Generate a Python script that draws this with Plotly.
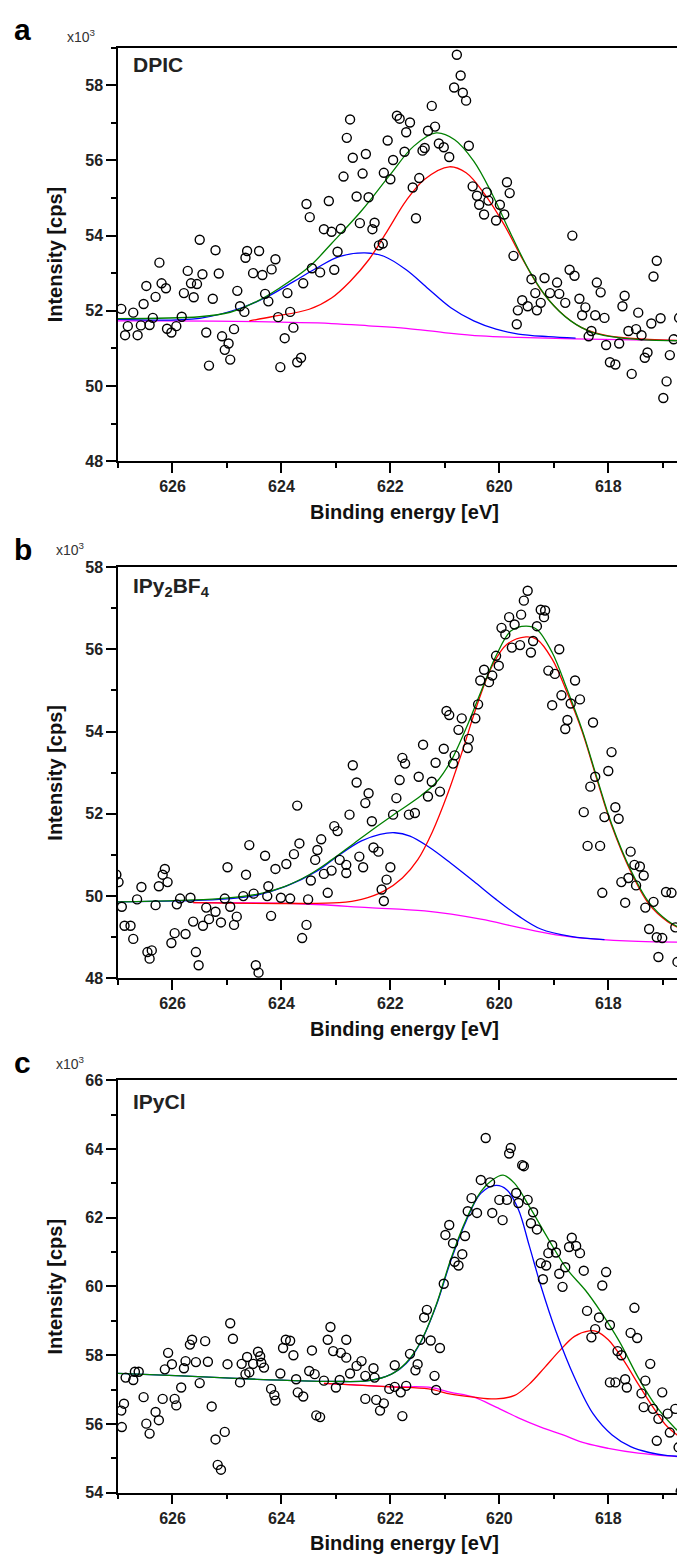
import plotly.graph_objects as go

W, H = 685, 1559

# ---- panel a: DPIC ----
a_points = [
    (620.78, 58.81), (620.71, 58.26), (620.83, 57.94), (620.67, 57.80), (620.61, 57.59), (621.24, 57.45),
    (622.74, 57.09), (621.88, 57.19), (621.83, 57.11), (621.64, 57.01), (621.71, 56.75), (621.18, 56.90),
    (621.31, 56.79), (622.80, 56.60), (622.05, 56.53), (621.11, 56.45), (621.02, 56.35), (620.56, 56.39),
    (621.37, 56.33), (621.41, 56.26), (621.74, 56.23), (620.92, 56.09), (622.69, 56.07), (622.45, 56.17),
    (621.95, 56.01), (622.12, 55.67), (622.86, 55.57), (622.51, 55.65), (622.00, 55.50), (621.47, 55.53),
    (621.59, 55.28), (620.49, 55.31), (620.41, 55.06), (620.23, 55.15), (619.86, 55.42), (619.81, 55.13),
    (622.62, 55.04), (622.40, 55.02), (620.20, 54.93), (620.37, 54.82), (619.99, 54.82), (620.28, 54.56),
    (619.91, 54.56), (620.06, 54.40), (623.54, 54.84), (623.13, 54.92), (623.48, 54.49), (621.53, 54.46),
    (622.56, 54.33), (622.29, 54.34), (622.33, 54.17), (623.22, 54.17), (623.08, 54.10), (622.91, 54.18),
    (622.21, 53.74), (622.14, 53.79), (622.97, 53.57), (618.66, 54.00), (625.50, 53.89), (625.21, 53.61),
    (624.63, 53.59), (624.41, 53.59), (624.66, 53.41), (624.11, 53.37), (626.24, 53.28), (624.18, 53.10),
    (624.52, 53.00), (624.35, 52.95), (625.72, 53.06), (625.45, 52.97), (625.15, 52.99), (623.44, 53.13),
    (623.29, 53.02), (623.03, 53.09), (619.74, 53.46), (619.41, 52.84), (619.17, 52.87), (618.94, 52.75),
    (618.71, 53.09), (618.62, 52.93), (618.21, 52.75), (618.14, 52.49), (617.70, 52.40), (617.74, 52.12),
    (617.11, 53.33), (617.17, 52.91), (616.63, 52.43), (616.56, 52.21), (626.48, 52.66), (626.20, 52.73),
    (626.12, 52.60), (626.31, 52.37), (625.79, 52.47), (625.66, 52.73), (625.55, 52.71), (625.61, 52.36),
    (625.26, 52.32), (624.81, 52.53), (624.30, 52.45), (623.89, 52.47), (624.24, 52.25), (623.60, 52.73),
    (619.58, 52.28), (619.48, 52.12), (619.34, 52.47), (619.24, 52.21), (619.07, 52.47), (618.90, 52.45),
    (618.79, 52.21), (618.53, 52.32), (618.42, 52.09), (619.66, 52.01), (619.31, 52.01), (618.48, 51.88),
    (618.24, 51.88), (618.07, 51.81), (619.68, 51.64), (617.45, 51.95), (617.04, 51.80), (616.70, 51.81),
    (617.21, 51.66), (626.53, 52.18), (626.94, 52.05), (626.72, 51.95), (626.36, 51.81), (625.83, 51.84),
    (624.76, 52.12), (624.68, 51.97), (624.06, 51.83), (623.84, 51.97), (618.31, 51.46), (618.36, 51.32),
    (618.04, 51.09), (617.80, 51.13), (617.63, 51.46), (617.49, 51.51), (617.39, 51.35), (616.80, 51.24),
    (617.97, 50.63), (617.87, 50.57), (617.57, 50.32), (617.28, 50.89), (617.33, 50.75), (616.87, 50.82),
    (616.51, 50.89), (616.93, 50.12), (616.99, 49.68), (626.82, 51.59), (626.87, 51.35), (626.64, 51.35),
    (626.58, 51.61), (626.42, 51.62), (626.10, 51.52), (626.02, 51.42), (625.93, 51.59), (625.38, 51.42),
    (625.09, 51.32), (624.97, 51.13), (625.04, 50.96), (624.94, 50.70), (624.87, 51.51), (625.33, 50.54),
    (624.02, 50.50), (623.94, 51.27), (623.78, 51.55), (623.71, 50.63), (623.64, 50.75),
]
a_green_ev = [627.0, 625.5, 624.94, 624.45, 624.04, 623.49, 623.08, 622.53, 622.0, 621.57, 621.16,
              620.82, 620.47, 620.13, 619.79, 619.44, 619.10, 618.69, 618.28, 617.59, 616.5]
a_green = [51.79, 51.84, 51.96, 52.25, 52.60, 53.17, 53.79, 54.66, 55.63, 56.38, 56.73,
           56.55, 55.98, 55.10, 54.05, 53.04, 52.30, 51.73, 51.42, 51.25, 51.20]
a_blue_ev = [627.0, 625.5, 624.73, 624.25, 623.77, 623.36, 622.94, 622.47, 622.12, 621.71, 621.30,
             620.89, 620.47, 620.06, 619.65, 619.10, 618.6]
a_blue = [51.77, 51.80, 52.08, 52.38, 52.78, 53.13, 53.44, 53.54, 53.45, 53.09, 52.58,
          52.08, 51.73, 51.51, 51.38, 51.31, 51.27]
a_red_ev = [624.59, 624.18, 623.49, 623.08, 622.74, 622.40, 622.05, 621.71, 621.37, 620.92, 620.61,
            620.27, 619.92, 619.58, 619.24, 618.90, 618.49, 618.0, 617.25, 616.5]
a_red = [51.73, 51.84, 52.04, 52.34, 52.78, 53.35, 54.14, 54.93, 55.50, 55.83, 55.67,
         55.10, 54.31, 53.39, 52.56, 51.99, 51.55, 51.33, 51.24, 51.20]
a_bg_ev = [627.0, 626.31, 624.45, 623.08, 622.40, 621.71, 621.02, 620.34, 619.65, 618.62, 616.5]
a_bg = [51.73, 51.73, 51.71, 51.66, 51.60, 51.53, 51.42, 51.33, 51.29, 51.25, 51.20]

# ---- panel b: IPy2BF4 ----
b_points = [
    (619.48, 57.42), (619.55, 57.18), (619.24, 56.96), (619.16, 56.94), (619.18, 56.78), (619.82, 56.78),
    (619.60, 56.84), (619.96, 56.52), (619.72, 56.60), (619.31, 56.56), (619.89, 56.36), (619.77, 56.04),
    (619.62, 56.10), (619.42, 55.92), (619.38, 56.20), (618.90, 56.00), (620.06, 55.84), (620.01, 55.60),
    (620.28, 55.50), (620.13, 55.36), (620.35, 55.24), (620.19, 55.20), (619.10, 55.48), (618.98, 55.40),
    (618.61, 55.24), (618.52, 54.78), (618.86, 54.88), (618.69, 54.68), (619.03, 54.64), (620.39, 54.66),
    (620.97, 54.50), (620.92, 54.40), (620.69, 54.32), (620.44, 54.32), (618.75, 54.28), (618.28, 54.22),
    (620.75, 54.04), (620.56, 53.82), (620.58, 53.60), (618.79, 54.06), (621.40, 53.68), (621.02, 53.58),
    (620.82, 53.42), (620.85, 53.22), (621.17, 53.24), (621.78, 53.36), (621.73, 53.22), (622.69, 53.18),
    (617.94, 53.50), (618.00, 53.04), (618.24, 52.90), (618.33, 52.66), (622.62, 52.76), (621.83, 52.82),
    (621.48, 52.90), (621.24, 52.78), (622.40, 52.50), (622.46, 52.26), (621.89, 52.38), (621.09, 52.54),
    (621.31, 52.42), (623.71, 52.20), (618.45, 52.04), (618.07, 51.92), (617.87, 52.16), (617.81, 51.88),
    (622.75, 51.98), (623.03, 51.70), (622.97, 51.58), (622.34, 51.82), (621.95, 51.98), (621.66, 51.98),
    (621.55, 52.02), (623.27, 51.38), (623.34, 51.12), (623.67, 51.28), (624.59, 51.24), (623.77, 51.02),
    (623.91, 50.78), (623.38, 50.88), (622.93, 50.88), (622.81, 50.76), (622.57, 50.96), (622.50, 50.70),
    (622.31, 51.18), (622.22, 51.08), (618.38, 51.22), (618.15, 51.22), (617.59, 51.08), (617.52, 50.76),
    (617.42, 50.72), (624.99, 50.70), (624.30, 50.98), (624.11, 50.66), (624.65, 50.52), (623.46, 50.38),
    (623.22, 50.54), (623.08, 50.62), (622.81, 50.56), (622.00, 50.70), (622.07, 50.40), (622.16, 50.16),
    (622.12, 49.88), (623.15, 50.08), (617.76, 50.34), (617.63, 50.44), (617.49, 50.26), (617.35, 50.50),
    (618.11, 50.08), (617.69, 49.84), (617.32, 49.72), (617.17, 49.86), (616.94, 50.10), (616.84, 50.08),
    (624.24, 50.24), (624.01, 49.96), (623.84, 49.94), (623.51, 49.92), (624.26, 50.00), (624.51, 50.06),
    (624.70, 50.00), (625.04, 49.94), (624.94, 49.74), (624.82, 49.50), (624.87, 49.30), (625.11, 49.36),
    (625.21, 49.62), (625.38, 49.72), (625.33, 49.44), (625.44, 49.28), (625.62, 49.38), (625.76, 49.08),
    (625.96, 49.10), (626.02, 48.86), (624.19, 49.52), (623.54, 49.30), (623.62, 48.98), (625.57, 48.64),
    (625.52, 48.32), (624.47, 48.32), (624.42, 48.14), (625.67, 49.96), (625.86, 49.94), (625.92, 49.80),
    (626.31, 49.78), (626.65, 49.92), (626.93, 49.74), (626.99, 50.34), (627.03, 50.52), (626.57, 50.22),
    (626.25, 50.24), (626.18, 50.52), (626.14, 50.66), (626.09, 50.34), (626.88, 49.28), (626.77, 49.28),
    (626.72, 48.96), (626.46, 48.64), (626.38, 48.68), (626.42, 48.48), (617.25, 49.20), (617.11, 49.00),
    (617.01, 48.98), (617.08, 48.52), (616.77, 49.24), (616.60, 49.24), (616.73, 48.40), (616.63, 48.08),
]
b_green_ev = [627.0, 625.14, 624.46, 623.97, 623.49, 623.08, 622.67, 622.26, 621.85, 621.44, 621.16,
              620.89, 620.61, 620.34, 620.06, 619.79, 619.51, 619.31, 619.03, 618.76, 618.48, 618.21,
              617.94, 617.59, 617.25, 616.91, 616.5]
b_green = [49.86, 49.94, 50.04, 50.22, 50.52, 50.88, 51.28, 51.68, 52.06, 52.44, 52.76,
           53.28, 54.08, 54.96, 55.84, 56.44, 56.56, 56.48, 55.92, 55.04, 54.04, 52.88,
           51.76, 50.64, 49.84, 49.40, 49.10]
b_blue_ev = [627.0, 625.14, 624.46, 623.91, 623.36, 622.94, 622.53, 622.19, 621.92, 621.64, 621.30,
             620.89, 620.47, 620.06, 619.65, 619.24, 618.69, 618.07]
b_blue = [49.86, 49.92, 50.02, 50.24, 50.60, 51.00, 51.34, 51.50, 51.54, 51.46, 51.20,
          50.80, 50.36, 49.92, 49.52, 49.20, 49.02, 48.94]
b_red_ev = [625.62, 623.77, 622.94, 622.53, 622.12, 621.78, 621.50, 621.23, 620.95, 620.68, 620.41,
            620.13, 619.86, 619.51, 619.31, 619.03, 618.76, 618.48, 618.21, 617.94, 617.59, 617.25,
            616.91, 616.5]
b_red = [49.84, 49.82, 49.84, 49.92, 50.12, 50.44, 50.88, 51.56, 52.48, 53.52, 54.64,
         55.60, 56.12, 56.30, 56.24, 55.76, 54.96, 54.00, 52.84, 51.72, 50.60, 49.80,
         49.38, 49.10]
b_bg_ev = [625.62, 623.77, 622.40, 621.37, 620.34, 619.65, 618.96, 618.28, 617.45, 616.5]
b_bg = [49.84, 49.82, 49.72, 49.64, 49.44, 49.24, 49.06, 48.96, 48.90, 48.88]

# ---- panel c: IPyCl ----
c_points = [
    (620.25, 64.32), (619.79, 64.03), (619.82, 63.87), (619.58, 63.53), (619.55, 63.50), (620.34, 63.10),
    (620.17, 63.03), (620.51, 62.57), (620.00, 62.52), (619.86, 62.52), (619.69, 62.72), (619.48, 62.52),
    (619.65, 62.43), (620.58, 62.19), (620.41, 62.14), (620.13, 62.14), (619.94, 61.93), (619.38, 62.16),
    (619.42, 61.84), (619.31, 61.66), (620.92, 61.79), (620.99, 61.50), (620.85, 61.26), (620.63, 61.47),
    (619.03, 61.20), (618.67, 61.42), (618.59, 61.18), (618.72, 61.15), (618.52, 60.97), (619.10, 60.97),
    (618.96, 60.99), (620.68, 60.94), (620.82, 60.72), (620.75, 60.61), (619.24, 60.68), (619.14, 60.61),
    (618.79, 60.56), (618.90, 60.37), (618.45, 60.46), (618.04, 60.42), (619.20, 60.21), (618.84, 59.99),
    (618.11, 60.03), (621.02, 60.08), (617.52, 59.38), (621.33, 59.32), (621.38, 59.10), (618.39, 59.29),
    (618.17, 59.10), (617.97, 58.88), (618.24, 58.76), (618.31, 58.52), (617.59, 58.65), (617.47, 58.50),
    (621.45, 58.45), (621.26, 58.43), (621.09, 58.21), (617.83, 58.12), (617.76, 58.00), (617.23, 57.75),
    (616.56, 57.75), (621.64, 58.04), (621.50, 57.74), (621.54, 57.56), (621.92, 57.71), (622.31, 57.62),
    (622.53, 57.83), (622.62, 57.69), (622.74, 57.47), (622.46, 57.40), (622.29, 57.35), (622.81, 57.93),
    (622.91, 58.07), (623.05, 58.12), (623.44, 58.14), (623.15, 58.45), (622.81, 58.45), (623.10, 58.82),
    (623.92, 58.45), (623.84, 58.42), (623.97, 58.21), (623.78, 58.00), (624.43, 58.10), (624.39, 57.97),
    (624.37, 57.78), (624.63, 57.95), (624.73, 57.75), (624.52, 57.75), (624.32, 57.64), (624.66, 57.45),
    (624.59, 57.50), (624.99, 57.74), (624.89, 58.48), (624.94, 58.93), (625.64, 58.45), (625.68, 58.31),
    (625.40, 58.41), (626.08, 58.07), (626.01, 57.74), (626.14, 57.59), (625.76, 57.83), (625.57, 57.80),
    (625.35, 57.81), (625.79, 57.62), (626.62, 57.52), (626.69, 57.52), (626.86, 57.35), (626.72, 57.28),
    (624.02, 57.47), (623.73, 57.30), (623.49, 57.54), (623.39, 57.45), (623.22, 57.26), (622.93, 57.28),
    (623.00, 57.06), (624.76, 57.21), (625.50, 57.19), (625.84, 57.06), (621.19, 57.40), (622.02, 57.02),
    (621.92, 57.08), (621.71, 57.11), (621.81, 56.92), (621.16, 56.99), (622.46, 56.73), (622.26, 56.70),
    (622.12, 56.60), (622.19, 56.39), (621.78, 56.23), (623.70, 56.92), (623.60, 56.80), (624.19, 57.02),
    (624.13, 56.84), (624.11, 56.68), (623.36, 56.25), (623.29, 56.20), (617.97, 57.21), (617.87, 57.21),
    (617.69, 57.30), (617.66, 57.06), (617.32, 57.26), (617.39, 56.89), (617.01, 56.92), (617.35, 56.49),
    (617.18, 56.44), (617.08, 56.15), (616.91, 56.30), (616.77, 56.44), (616.56, 56.44), (616.87, 55.75),
    (617.11, 55.51), (616.71, 55.32), (616.60, 54.81), (616.67, 54.05), (625.96, 56.73), (626.18, 56.73),
    (625.93, 56.54), (626.31, 56.35), (626.25, 56.11), (626.48, 56.01), (626.42, 55.72), (626.53, 56.78),
    (626.89, 56.59), (626.94, 56.39), (626.93, 55.91), (625.28, 56.51), (625.21, 55.55), (625.04, 55.77),
    (625.17, 54.81), (625.11, 54.67),
]
c_green_ev = [627.0, 625.83, 624.45, 623.08, 622.40, 621.98, 621.71, 621.44, 621.16, 620.89, 620.61,
              620.34, 620.13, 619.93, 619.72, 619.45, 619.10, 618.76, 618.42, 618.14, 617.80, 617.45,
              617.11, 616.77, 616.5]
c_green = [57.47, 57.40, 57.30, 57.24, 57.26, 57.45, 57.78, 58.40, 59.46, 60.80, 61.95,
           62.76, 63.10, 63.24, 63.00, 62.33, 61.38, 60.51, 59.89, 59.27, 58.41, 57.35,
           56.49, 55.87, 55.50]
c_blue_ev = [627.0, 625.83, 624.45, 623.08, 622.40, 621.98, 621.71, 621.44, 621.16, 620.89, 620.61,
             620.34, 620.06, 619.86, 619.65, 619.45, 619.24, 618.96, 618.62, 618.28, 617.93, 617.59,
             617.25, 616.91, 616.5]
c_blue = [57.47, 57.40, 57.30, 57.24, 57.26, 57.45, 57.76, 58.39, 59.44, 60.75, 61.90,
          62.71, 62.94, 62.81, 62.24, 61.18, 60.03, 58.69, 57.35, 56.30, 55.68, 55.34,
          55.17, 55.08, 55.05]
c_red_ev = [623.22, 621.98, 621.30, 620.89, 620.47, 620.06, 619.72, 619.45, 619.17, 618.90, 618.62,
            618.35, 618.21, 618.00, 617.73, 617.45, 617.18, 616.91, 616.5]
c_red = [57.18, 57.08, 57.02, 56.87, 56.78, 56.73, 56.83, 57.16, 57.64, 58.12, 58.55,
         58.71, 58.69, 58.45, 57.88, 57.16, 56.49, 55.91, 55.42]
c_bg_ev = [623.22, 622.67, 621.98, 621.30, 620.89, 620.47, 620.06, 619.65, 619.24, 618.83, 618.42,
           618.00, 617.45, 616.91, 616.5]
c_bg = [57.18, 57.14, 57.08, 57.07, 56.92, 56.78, 56.49, 56.18, 55.91, 55.68, 55.44,
        55.29, 55.15, 55.07, 55.03]

x_range = [627.0, 616.5]

panels = [
    dict(letter="a", name="DPIC", pts=a_points, top=32, bottom=450, yr=[48, 59], y0=48,
         curves=[(a_bg_ev, a_bg, "#ff00ff"), (a_blue_ev, a_blue, "#0000ff"),
                 (a_red_ev, a_red, "#ff0000"), (a_green_ev, a_green, "#008000")],
         name_dy=17, exp_x=73, exp_dy=12),
    dict(letter="b", name="IPy<sub>2</sub>BF<sub>4</sub>", pts=b_points, top=557, bottom=973, yr=[48, 58], y0=48,
         curves=[(b_bg_ev, b_bg, "#ff00ff"), (b_blue_ev, b_blue, "#0000ff"),
                 (b_red_ev, b_red, "#ff0000"), (b_green_ev, b_green, "#008000")],
         name_dy=20, exp_x=63, exp_dy=18),
    dict(letter="c", name="IPyCl", pts=c_points, top=1076, bottom=1493, yr=[54, 66], y0=54,
         curves=[(c_bg_ev, c_bg, "#ff00ff"), (c_red_ev, c_red, "#ff0000"),
                 (c_blue_ev, c_blue, "#0000ff"), (c_green_ev, c_green, "#008000")],
         name_dy=21, exp_x=63, exp_dy=17),
]

def py(px):
    return 1 - px / H

def pxx(px):
    return px / W

tick_font = dict(family="Liberation Sans, Arial", size=16, color="#222", weight="bold")
axis_style = dict(showline=True, linecolor="black", linewidth=1.5, mirror=True,
                  ticks="outside", ticklen=10, tickwidth=1.5, tickcolor="black",
                  showgrid=False, zeroline=False, tickfont=tick_font,
                  minor=dict(ticks="outside", ticklen=5, tickwidth=1.5, tickcolor="black",
                             dtick=1, showgrid=False))

fig = go.Figure()
layout = dict(width=W, height=H, margin=dict(l=0, r=0, t=0, b=0),
              plot_bgcolor="white", paper_bgcolor="white", showlegend=False)
annotations = []

for i, p in enumerate(panels):
    s = "" if i == 0 else str(i + 1)
    for ev, vals, col in p["curves"]:
        fig.add_trace(go.Scatter(x=ev, y=vals, mode="lines", line=dict(color=col, width=1.3, shape="spline"),
                                 xaxis="x" + s, yaxis="y" + s, hoverinfo="skip"))
    xs = [q[0] for q in p["pts"]]
    ys = [q[1] for q in p["pts"]]
    fig.add_trace(go.Scatter(x=xs, y=ys, mode="markers",
                             marker=dict(symbol="circle-open", size=9, color="black", line=dict(width=1.4)),
                             xaxis="x" + s, yaxis="y" + s))
    layout["xaxis" + s] = dict(axis_style, domain=[pxx(110), pxx(682)], anchor="y" + s, range=x_range,
                               tickmode="linear", tick0=618, dtick=2)
    layout["yaxis" + s] = dict(axis_style, domain=[py(p["bottom"]), py(p["top"])], anchor="x" + s,
                               range=p["yr"], tickmode="linear", tick0=p["y0"], dtick=2)
    mid = (p["top"] + p["bottom"]) / 2
    annotations += [
        dict(text="<b>" + p["letter"] + "</b>", x=pxx(4), y=py(p["top"] - 18), xanchor="left", yanchor="middle",
             font=dict(family="Liberation Sans, Arial", size=30, color="black")),
        dict(text="x10<sup>3</sup>", x=pxx(p["exp_x"]), y=py(p["top"] - p["exp_dy"]), xanchor="center",
             yanchor="middle", font=dict(family="Liberation Sans, Arial", size=14, color="#333")),
        dict(text="<b>" + p["name"] + "</b>", x=pxx(123), y=py(p["top"] + p["name_dy"]), xanchor="left",
             yanchor="middle", font=dict(family="Liberation Sans, Arial", size=21, color="#222")),
        dict(text="<b>Binding energy [eV]</b>", x=pxx(396), y=py(p["bottom"] + 51), xanchor="center",
             yanchor="middle", font=dict(family="Liberation Sans, Arial", size=20, color="#111")),
        dict(text="<b>Intensity [cps]</b>", x=pxx(47), y=py(mid), xanchor="center", yanchor="middle",
             textangle=-90, font=dict(family="Liberation Sans, Arial", size=20, color="#111")),
    ]

for a in annotations:
    a.update(xref="paper", yref="paper", showarrow=False)
layout["annotations"] = annotations
fig.update_layout(**layout)

fig.write_html("out.html")
